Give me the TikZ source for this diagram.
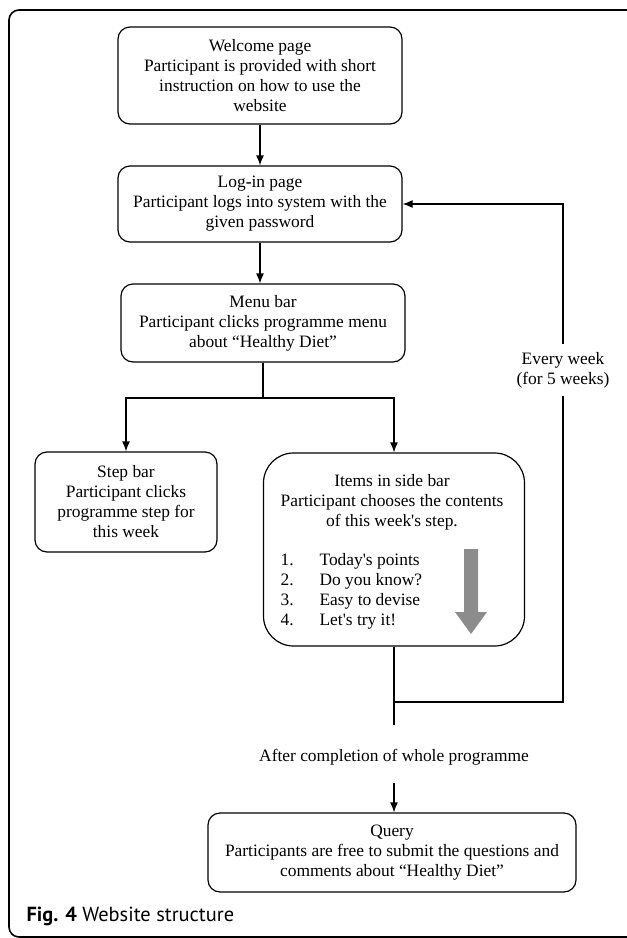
\documentclass[tikz,border=0pt]{standalone}
\usepackage{fontspec}
\setmainfont{Liberation Serif}
\newfontfamily\capfont{PT Sans}
\usetikzlibrary{arrows.meta}
\definecolor{arrowgray}{HTML}{8C8C8C}
\tikzset{
  page/.style={draw, rounded corners=6pt, align=center, inner sep=2pt},
}

\begin{document}
\begin{tikzpicture}[x=0.5pt, y=-0.5pt, >={Latex[length=5pt,width=4pt]}, line width=0.6pt,
  font=\fontsize{8.7}{10}\selectfont]
  \useasboundingbox (0,0) rectangle (627,938);
  % outer frame
  \draw[line width=0.8pt, rounded corners=5pt] (660,937) -- (9,937) -- (9,10) -- (660,10);

  \node[page, minimum width=142pt, minimum height=48.5pt] (welcome) at (260,75.5)
    {Welcome page\\Participant is provided with short\\instruction on how to use the\\website};
  \node[page, minimum width=142pt, minimum height=38pt] (login) at (260,204)
    {Log\textbf{-}in page\\Participant logs into system with the\\given password};
  \node[page, minimum width=142pt, minimum height=39pt] (menu) at (263,323)
    {Menu bar\\Participant clicks programme menu\\about ``Healthy Diet''};
  \node[page, minimum width=91pt, minimum height=50pt] (stepbar) at (126,502)
    {Step bar\\Participant clicks\\programme step for\\this week};
  \node[page, rounded corners=15pt, minimum width=130.5pt, minimum height=96.5pt] (items) at (394,549.5) {};
  \node[align=center] (itemshead) at (392,502)
    {Items in side bar\\Participant chooses the contents\\of this week\textquotesingle s step.};
  \node[anchor=west, inner sep=0pt] (itemslist) at (280,591.5)
    {\begin{tabular}{@{}p{19.5pt}@{}l@{}}
      1. & Today\textquotesingle s points\\
      2. & Do you know?\\
      3. & Easy to devise\\
      4. & Let\textquotesingle s try it!
    \end{tabular}};
  \fill[arrowgray] (464,549) -- (478,549) -- (478,612) -- (487,612) -- (471,634)
    -- (455,612) -- (464,612) -- cycle;
  \node[page, minimum width=184pt, minimum height=39.5pt] (query) at (392,852.5)
    {Query\\Participants are free to submit the questions and\\comments about ``Healthy Diet''};

  % connectors
  \draw[->] (welcome) -- (login);
  \draw[->] (login) -- (login |- menu.north);
  \coordinate (split) at (263,398);
  \draw (menu.south) -- (split);
  \draw[->] (split) -| (stepbar.north);
  \draw[->] (split) -| (items.north);
  \coordinate (stem) at (394,725);
  \draw (items.south) -- (stem);
  \coordinate (loop) at (394,702);
  \coordinate (turn) at (563,702);
  \draw[->] (loop) -- (turn) |- (login.east);
  \node[fill=white, inner sep=4pt, align=center] (every) at (563,370) {Every week\\(for 5 weeks)};
  \node (after) at (394,757) {After completion of whole programme};
  \coordinate (afterout) at (394,783);
  \draw[->] (afterout) -- (afterout |- query.north);

  \node[anchor=base west, inner sep=0pt, font=\capfont\fontsize{10.2}{12}\selectfont] (caption) at (26,921)
    {\textbf{Fig. 4} Website structure};
\end{tikzpicture}
\end{document}
